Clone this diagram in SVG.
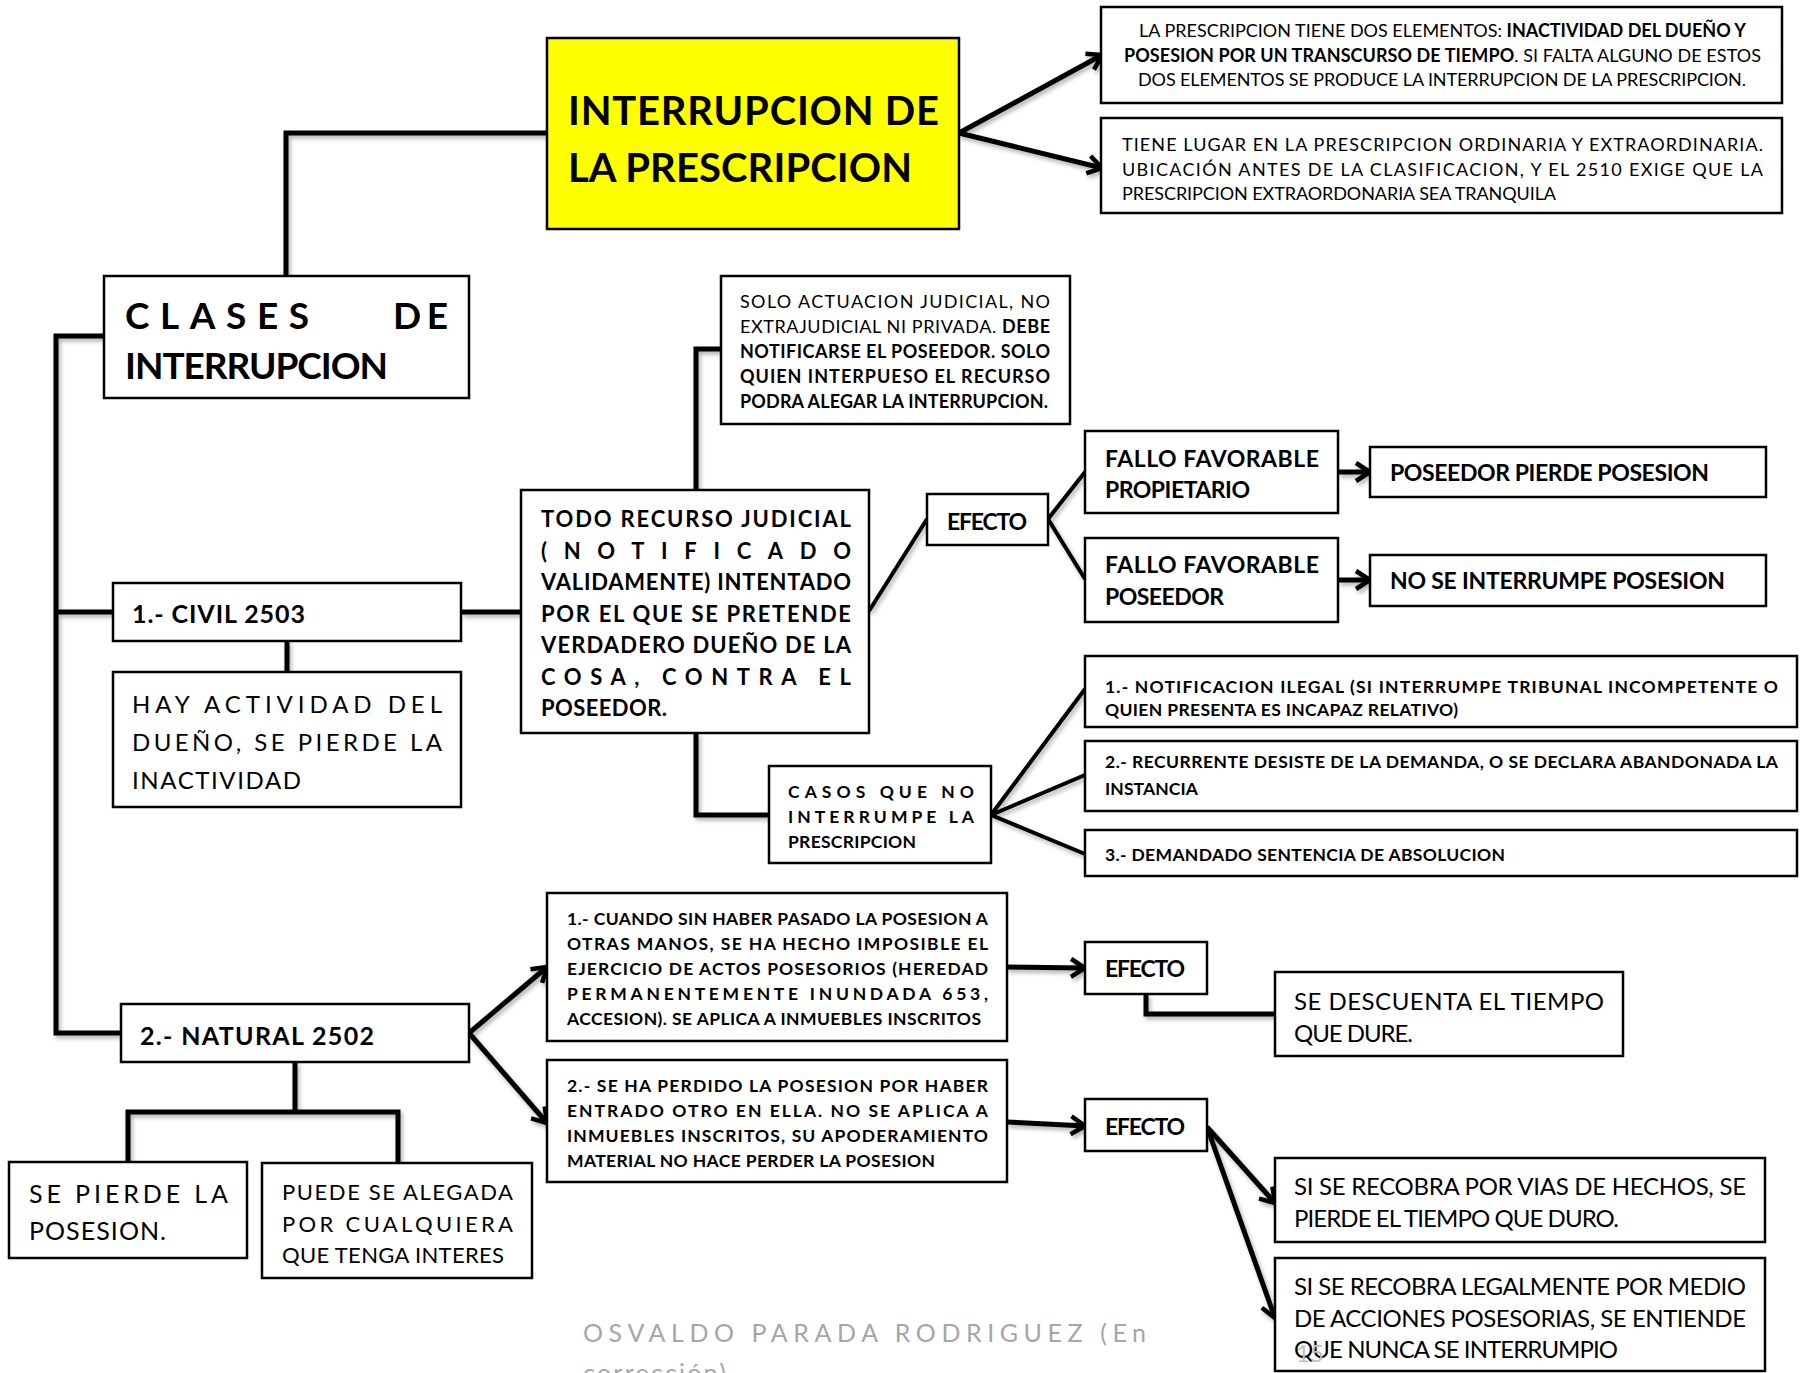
<svg xmlns="http://www.w3.org/2000/svg" width="1800" height="1373" viewBox="0 0 1800 1373">
<style>
.bg{fill:#fff}
.box{fill:#fff;stroke:#000;stroke-width:2.5}
.yel{fill:#ffff00;stroke:#000;stroke-width:2.5}
text{font-family:Lato,"Open Sans","Liberation Sans",sans-serif;fill:#000}
.b{font-weight:700}
.c{fill:none;stroke:#000;stroke-width:5;stroke-linejoin:miter;stroke-linecap:butt}
.d{fill:none;stroke:#000;stroke-width:4;stroke-linecap:butt}
.a{fill:none;stroke:#000;stroke-width:5;marker-end:url(#ah)}
.ft{fill:#a6a6a6}
</style>
<defs>
<marker id="ah" viewBox="0 0 22 22" refX="19" refY="11" markerWidth="22" markerHeight="22" markerUnits="userSpaceOnUse" orient="auto">
<path d="M5,2 L19,11 L5,20" fill="none" stroke="#000" stroke-width="4.5"/>
</marker>
<filter id="sh" x="-5%" y="-5%" width="110%" height="110%">
<feDropShadow dx="2" dy="3" stdDeviation="2" flood-color="#000" flood-opacity="0.3"/>
</filter>
</defs>
<rect class="bg" x="0" y="0" width="1800" height="1373"/>

<g id="connectors" filter="url(#sh)">
<path class="c" d="M547 133 H286 V276"/>
<path class="a" d="M959 133 L1102 55"/>
<path class="a" d="M959 133 L1102 168"/>
<path class="c" d="M104 336 H56 V1033 H121"/>
<path class="c" d="M56 612 H113"/>
<path class="c" d="M461 612 H521"/>
<path class="c" d="M287 641 V672"/>
<path class="c" d="M696 490 V349 H721"/>
<path class="c" d="M696 733 V815 H769"/>
<path class="d" d="M869 611 L927 519"/>
<path class="d" d="M1048 519 L1085 472"/>
<path class="d" d="M1048 519 L1085 579"/>
<path class="a" d="M1338 472 H1370"/>
<path class="a" d="M1338 580 H1370"/>
<path class="d" d="M991 815 L1085 689"/>
<path class="d" d="M991 815 L1085 775"/>
<path class="d" d="M991 815 L1085 854"/>
<path class="a" d="M469 1033 L547 967"/>
<path class="a" d="M469 1033 L547 1123"/>
<path class="c" d="M295 1062 V1112"/>
<path class="c" d="M128 1162 V1112 H398 V1163"/>
<path class="a" d="M1007 967 L1085 968"/>
<path class="a" d="M1007 1122 L1085 1126"/>
<path class="c" d="M1146 994 V1014 H1275"/>
<path class="a" d="M1207 1127 L1275 1203"/>
<path class="a" d="M1207 1127 L1275 1318"/>
</g>

<g id="n-title">
<rect class="yel" x="547" y="38" width="412" height="191"/>
<text class="b" x="568" y="125" font-size="40" textLength="371">INTERRUPCION  DE</text>
<text class="b" x="568" y="182" font-size="40" textLength="344">LA PRESCRIPCION</text>
</g>

<g id="n-top1">
<rect class="box" x="1101" y="7" width="681" height="96"/>
<text x="1139" y="37" font-size="18" textLength="607">LA PRESCRIPCION TIENE DOS ELEMENTOS: <tspan class="b">INACTIVIDAD DEL DUEÑO Y</tspan></text>
<text x="1124" y="62" font-size="18" textLength="637"><tspan class="b">POSESION POR UN TRANSCURSO DE TIEMPO</tspan>. SI FALTA ALGUNO DE ESTOS</text>
<text x="1138" y="86" font-size="18" textLength="608">DOS ELEMENTOS SE PRODUCE LA INTERRUPCION DE LA PRESCRIPCION.</text>
</g>

<g id="n-top2">
<rect class="box" x="1101" y="118" width="681" height="95"/>
<text x="1122" y="151" font-size="18" textLength="641">TIENE LUGAR EN LA PRESCRIPCION ORDINARIA Y EXTRAORDINARIA.</text>
<text x="1122" y="176" font-size="18" textLength="641">UBICACIÓN ANTES DE LA CLASIFICACION, Y EL 2510 EXIGE QUE LA</text>
<text x="1122" y="200" font-size="18" textLength="434">PRESCRIPCION EXTRAORDONARIA SEA TRANQUILA</text>
</g>

<g id="n-clases">
<rect class="box" x="104" y="276" width="365" height="122"/>
<text class="b" x="125" y="329" font-size="37" textLength="184">CLASES</text>
<text class="b" x="393" y="329" font-size="37" textLength="55">DE</text>
<text class="b" x="125" y="379" font-size="37" textLength="263">INTERRUPCION</text>
</g>

<g id="n-solo">
<rect class="box" x="721" y="276" width="349" height="148"/>
<text x="740" y="308" font-size="18" textLength="310">SOLO ACTUACION JUDICIAL, NO</text>
<text x="740" y="333" font-size="18" textLength="310">EXTRAJUDICIAL NI PRIVADA. <tspan class="b">DEBE</tspan></text>
<text class="b" x="740" y="358" font-size="18" textLength="310">NOTIFICARSE EL POSEEDOR. SOLO</text>
<text class="b" x="740" y="383" font-size="18" textLength="310">QUIEN INTERPUESO EL RECURSO</text>
<text class="b" x="740" y="408" font-size="18" textLength="308">PODRA ALEGAR LA INTERRUPCION.</text>
</g>

<g id="n-civil">
<rect class="box" x="113" y="583" width="348" height="58"/>
<text class="b" x="132" y="623" font-size="25" textLength="173">1.- CIVIL 2503</text>
</g>

<g id="n-hay">
<rect class="box" x="113" y="672" width="348" height="135"/>
<text x="132" y="713" font-size="24" textLength="310">HAY ACTIVIDAD DEL</text>
<text x="132" y="751" font-size="24" textLength="310">DUEÑO, SE PIERDE LA</text>
<text x="132" y="789" font-size="24" textLength="169">INACTIVIDAD</text>
</g>

<g id="n-todo">
<rect class="box" x="521" y="490" width="348" height="243"/>
<text class="b" x="541" y="527" font-size="22" textLength="310">TODO RECURSO JUDICIAL</text>
<text class="b" x="541" y="559" font-size="22" textLength="310">(NOTIFICADO</text>
<text class="b" x="541" y="590" font-size="22" textLength="310">VALIDAMENTE) INTENTADO</text>
<text class="b" x="541" y="622" font-size="22" textLength="310">POR EL QUE SE PRETENDE</text>
<text class="b" x="541" y="653" font-size="22" textLength="310">VERDADERO DUEÑO DE LA</text>
<text class="b" x="541" y="685" font-size="22" textLength="310">COSA, CONTRA EL</text>
<text class="b" x="541" y="716" font-size="22" textLength="126">POSEEDOR.</text>
</g>

<g id="n-efecto1">
<rect class="box" x="927" y="494" width="121" height="51"/>
<text class="b" x="947" y="530" font-size="23" textLength="80">EFECTO</text>
</g>

<g id="n-fallo1">
<rect class="box" x="1085" y="431" width="253" height="82"/>
<text class="b" x="1105" y="467" font-size="23" textLength="214">FALLO  FAVORABLE</text>
<text class="b" x="1105" y="498" font-size="23" textLength="145">PROPIETARIO</text>
</g>

<g id="n-fallo2">
<rect class="box" x="1085" y="538" width="253" height="84"/>
<text class="b" x="1105" y="573" font-size="23" textLength="214">FALLO  FAVORABLE</text>
<text class="b" x="1105" y="605" font-size="23" textLength="119">POSEEDOR</text>
</g>

<g id="n-pierde">
<rect class="box" x="1370" y="447" width="396" height="50"/>
<text class="b" x="1390" y="481" font-size="23" textLength="319">POSEEDOR PIERDE POSESION</text>
</g>

<g id="n-nointer">
<rect class="box" x="1370" y="555" width="396" height="51"/>
<text class="b" x="1390" y="589" font-size="23" textLength="335">NO SE INTERRUMPE POSESION</text>
</g>

<g id="n-casos">
<rect class="box" x="769" y="766" width="222" height="97"/>
<text class="b" x="788" y="798" font-size="17.5" textLength="186">CASOS QUE NO</text>
<text class="b" x="788" y="823" font-size="17.5" textLength="186">INTERRUMPE LA</text>
<text class="b" x="788" y="848" font-size="17.5" textLength="128">PRESCRIPCION</text>
</g>

<g id="n-caso1">
<rect class="box" x="1085" y="656" width="712" height="71"/>
<text class="b" x="1105" y="693" font-size="17.5" textLength="673">1.- NOTIFICACION ILEGAL (SI INTERRUMPE TRIBUNAL INCOMPETENTE O</text>
<text class="b" x="1105" y="716" font-size="17.5" textLength="353">QUIEN PRESENTA ES INCAPAZ RELATIVO)</text>
</g>

<g id="n-caso2">
<rect class="box" x="1085" y="741" width="712" height="70"/>
<text class="b" x="1105" y="768" font-size="17.5" textLength="673">2.- RECURRENTE DESISTE DE LA DEMANDA, O SE DECLARA ABANDONADA LA</text>
<text class="b" x="1105" y="795" font-size="17.5" textLength="93">INSTANCIA</text>
</g>

<g id="n-caso3">
<rect class="box" x="1085" y="830" width="712" height="46"/>
<text class="b" x="1105" y="861" font-size="17.5" textLength="400">3.- DEMANDADO SENTENCIA DE ABSOLUCION</text>
</g>

<g id="n-natural">
<rect class="box" x="121" y="1004" width="348" height="58"/>
<text class="b" x="140" y="1045" font-size="25" textLength="234">2.- NATURAL 2502</text>
</g>

<g id="n-sepierde">
<rect class="box" x="9" y="1162" width="238" height="96"/>
<text x="29" y="1203" font-size="25" textLength="199">SE PIERDE LA</text>
<text x="29" y="1240" font-size="25" textLength="137">POSESION.</text>
</g>

<g id="n-puede">
<rect class="box" x="262" y="1163" width="270" height="115"/>
<text x="282" y="1200" font-size="22" textLength="231">PUEDE SE ALEGADA</text>
<text x="282" y="1232" font-size="22" textLength="231">POR CUALQUIERA</text>
<text x="282" y="1263" font-size="22" textLength="222">QUE TENGA INTERES</text>
</g>

<g id="n-cuando">
<rect class="box" x="547" y="893" width="460" height="148"/>
<text class="b" x="567" y="925" font-size="17.5" textLength="421">1.- CUANDO SIN HABER PASADO LA POSESION A</text>
<text class="b" x="567" y="950" font-size="17.5" textLength="421">OTRAS MANOS, SE HA HECHO IMPOSIBLE EL</text>
<text class="b" x="567" y="975" font-size="17.5" textLength="421">EJERCICIO DE ACTOS POSESORIOS (HEREDAD</text>
<text class="b" x="567" y="1000" font-size="17.5" textLength="421">PERMANENTEMENTE INUNDADA 653,</text>
<text class="b" x="567" y="1025" font-size="17.5" textLength="414">ACCESION). SE APLICA A INMUEBLES INSCRITOS</text>
</g>

<g id="n-perdido">
<rect class="box" x="547" y="1060" width="460" height="122"/>
<text class="b" x="567" y="1092" font-size="17.5" textLength="421">2.- SE HA PERDIDO LA POSESION POR HABER</text>
<text class="b" x="567" y="1117" font-size="17.5" textLength="421">ENTRADO OTRO EN ELLA. NO SE APLICA A</text>
<text class="b" x="567" y="1142" font-size="17.5" textLength="421">INMUEBLES INSCRITOS, SU APODERAMIENTO</text>
<text class="b" x="567" y="1167" font-size="17.5" textLength="368">MATERIAL NO HACE PERDER LA POSESION</text>
</g>

<g id="n-efecto2">
<rect class="box" x="1085" y="942" width="122" height="52"/>
<text class="b" x="1105" y="977" font-size="23" textLength="80">EFECTO</text>
</g>

<g id="n-efecto3">
<rect class="box" x="1085" y="1099" width="122" height="52"/>
<text class="b" x="1105" y="1135" font-size="23" textLength="80">EFECTO</text>
</g>

<g id="n-descuenta">
<rect class="box" x="1275" y="972" width="348" height="84"/>
<text x="1294" y="1010" font-size="24" textLength="310">SE DESCUENTA EL TIEMPO</text>
<text x="1294" y="1042" font-size="24" textLength="119">QUE DURE.</text>
</g>

<g id="n-recobra1">
<rect class="box" x="1275" y="1158" width="490" height="84"/>
<text x="1294" y="1195" font-size="24" textLength="452">SI SE RECOBRA POR VIAS DE HECHOS, SE</text>
<text x="1294" y="1227" font-size="24" textLength="325">PIERDE EL TIEMPO QUE DURO.</text>
</g>

<g id="n-recobra2">
<rect class="box" x="1275" y="1258" width="490" height="113"/>
<text x="1294" y="1295" font-size="24" textLength="452">SI SE RECOBRA LEGALMENTE POR MEDIO</text>
<text x="1294" y="1327" font-size="24" textLength="452">DE ACCIONES POSESORIAS, SE ENTIENDE</text>
<text x="1294" y="1358" font-size="24" textLength="324">QUE NUNCA SE INTERRUMPIO</text>
</g>

<g id="footer">
<text class="ft" x="583" y="1342" font-size="25" textLength="563">OSVALDO  PARADA  RODRIGUEZ  (En</text>
<text class="ft" x="583" y="1382" font-size="25" textLength="143">corrección)</text>
<text x="1296" y="1362" font-size="24" style="fill:#bfbfbf">15</text>
</g>
</svg>
